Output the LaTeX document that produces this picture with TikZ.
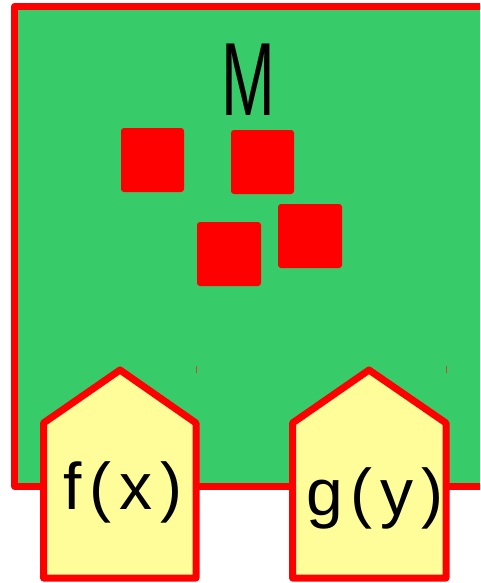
\documentclass[tikz,border=0pt]{standalone}
\usepackage{fontspec}
\setmainfont{Liberation Sans}
\definecolor{boxgreen}{RGB}{55,203,106}
\definecolor{tagyellow}{RGB}{255,253,153}
\definecolor{tickred}{RGB}{205,70,50}
\begin{document}
\begin{tikzpicture}[x=1pt,y=-1pt,
  frame/.style={draw=red, line width=7pt, line join=round},
  redsq/.style={fill=red, rounded corners=3pt},
  house/.style={draw=red, fill=tagyellow, line width=7pt, line join=round},
  lbl/.style={inner sep=0pt, font=\fontsize{66}{70}\selectfont\addfontfeature{LetterSpace=12}},
  tick/.style={draw=tickred, line width=1pt}]
\useasboundingbox (0,0) rectangle (480,583);
\clip (0,0) rectangle (480,583);
% main box
\draw[frame, fill=boxgreen] (14.5,6.5) rectangle (510,486);
\node[inner sep=0pt, xscale=0.62, font=\fontsize{104}{104}\selectfont] (M) at (248.5,79.5) {M};
% red squares
\fill[redsq] (121,128) rectangle (184,192);
\fill[redsq] (231,130) rectangle (294,194);
\fill[redsq] (197,222) rectangle (261,286);
\fill[redsq] (278,204) rectangle (342,268);
% tiny ticks
\draw[tick] (196.5,366) -- (196.5,373);
\draw[tick] (446,366) -- (446,373);
% houses
\draw[house] (43.5,578) -- (43.5,423) -- (120,370) -- (196,423) -- (196,578) -- cycle;
\draw[house] (292.5,578) -- (292.5,423) -- (369,370) -- (446,423) -- (446,578) -- cycle;
\node[lbl] (fx) at (123,492.5) {f(x)};
\node[lbl] (gy) at (375,498) {g(y)};
\end{tikzpicture}
\end{document}
